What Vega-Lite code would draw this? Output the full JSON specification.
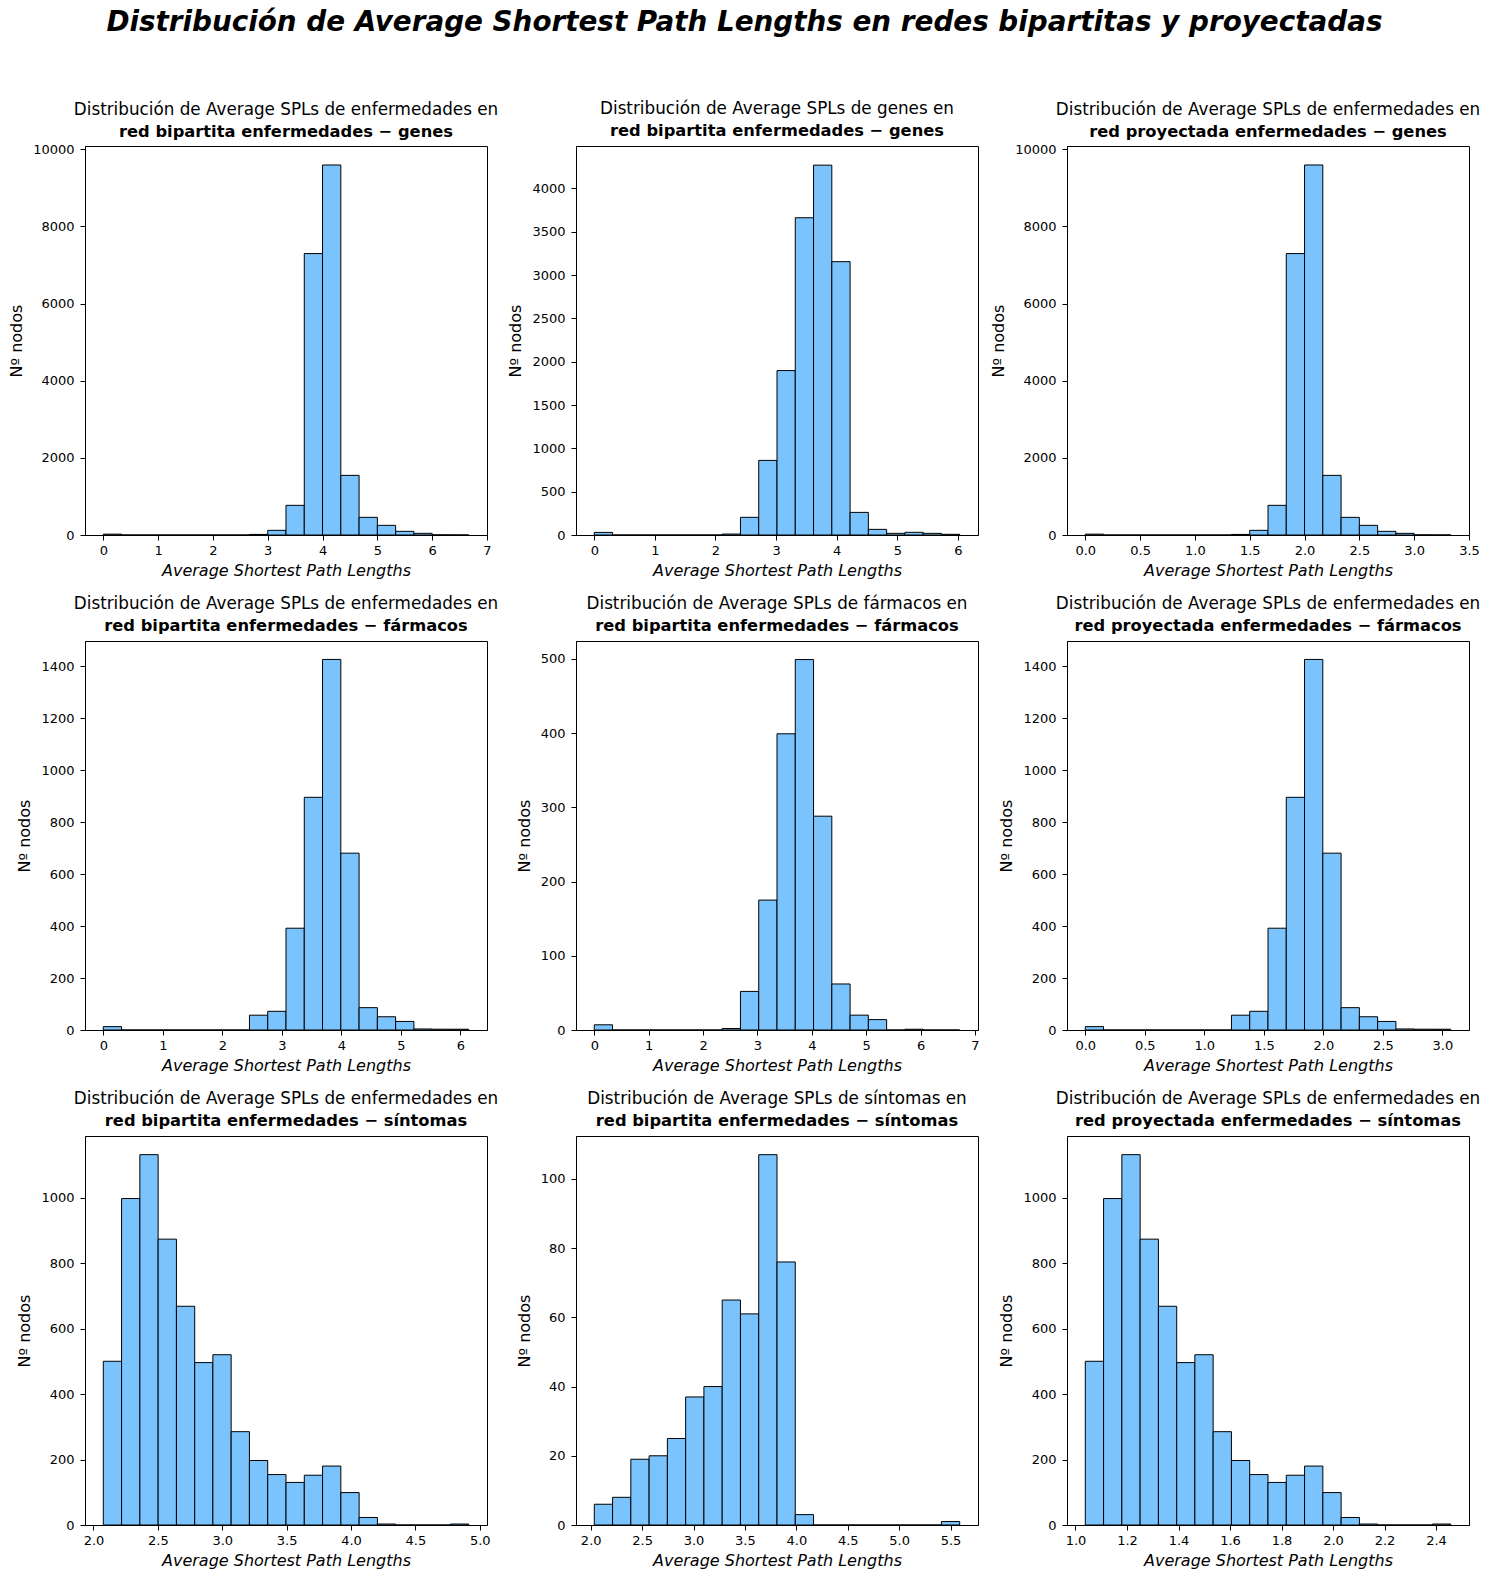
{
  "$schema": "https://vega.github.io/schema/vega-lite/v6.json",
  "padding": {"left": 8, "top": 9, "right": 5, "bottom": 5},
  "background": "white",
  "title": {
    "text": "Distribución de Average Shortest Path Lengths en redes bipartitas y proyectadas",
    "fontSize": 27.8,
    "fontWeight": "bold",
    "fontStyle": "italic",
    "font": "DejaVu Sans",
    "color": "black",
    "anchor": "middle",
    "offset": 63.5
  },
  "datasets": {
    "p1": [
      {"b0": 0, "b1": 0.3333, "n": 22}, {"b0": 0.3333, "b1": 0.6667, "n": 0}, {"b0": 0.6667, "b1": 1, "n": 0}, {"b0": 1, "b1": 1.3333, "n": 0},
      {"b0": 1.3333, "b1": 1.6667, "n": 0}, {"b0": 1.6667, "b1": 2, "n": 0}, {"b0": 2, "b1": 2.3333, "n": 0}, {"b0": 2.3333, "b1": 2.6667, "n": 0},
      {"b0": 2.6667, "b1": 3, "n": 15}, {"b0": 3, "b1": 3.3333, "n": 121}, {"b0": 3.3333, "b1": 3.6667, "n": 769}, {"b0": 3.6667, "b1": 4, "n": 7297},
      {"b0": 4, "b1": 4.3333, "n": 9594}, {"b0": 4.3333, "b1": 4.6667, "n": 1546}, {"b0": 4.6667, "b1": 5, "n": 458}, {"b0": 5, "b1": 5.3333, "n": 250},
      {"b0": 5.3333, "b1": 5.6667, "n": 95}, {"b0": 5.6667, "b1": 6, "n": 43}, {"b0": 6, "b1": 6.3333, "n": 4}, {"b0": 6.3333, "b1": 6.6667, "n": 2}
    ],
    "p2": [
      {"b0": 0, "b1": 0.3015, "n": 30}, {"b0": 0.3015, "b1": 0.603, "n": 0}, {"b0": 0.603, "b1": 0.9045, "n": 0}, {"b0": 0.9045, "b1": 1.206, "n": 0},
      {"b0": 1.206, "b1": 1.5075, "n": 0}, {"b0": 1.5075, "b1": 1.809, "n": 0}, {"b0": 1.809, "b1": 2.1105, "n": 0}, {"b0": 2.1105, "b1": 2.412, "n": 11},
      {"b0": 2.412, "b1": 2.7135, "n": 204}, {"b0": 2.7135, "b1": 3.015, "n": 861}, {"b0": 3.015, "b1": 3.3165, "n": 1898}, {"b0": 3.3165, "b1": 3.618, "n": 3662},
      {"b0": 3.618, "b1": 3.9195, "n": 4269}, {"b0": 3.9195, "b1": 4.221, "n": 3155}, {"b0": 4.221, "b1": 4.5225, "n": 261}, {"b0": 4.5225, "b1": 4.824, "n": 65},
      {"b0": 4.824, "b1": 5.1255, "n": 19}, {"b0": 5.1255, "b1": 5.427, "n": 31}, {"b0": 5.427, "b1": 5.7285, "n": 19}, {"b0": 5.7285, "b1": 6.03, "n": 8}
    ],
    "p3": [
      {"b0": 0, "b1": 0.1667, "n": 22}, {"b0": 0.1667, "b1": 0.3333, "n": 0}, {"b0": 0.3333, "b1": 0.5, "n": 0}, {"b0": 0.5, "b1": 0.6667, "n": 0},
      {"b0": 0.6667, "b1": 0.8333, "n": 0}, {"b0": 0.8333, "b1": 1, "n": 0}, {"b0": 1, "b1": 1.1667, "n": 0}, {"b0": 1.1667, "b1": 1.3333, "n": 0},
      {"b0": 1.3333, "b1": 1.5, "n": 15}, {"b0": 1.5, "b1": 1.6667, "n": 121}, {"b0": 1.6667, "b1": 1.8333, "n": 769}, {"b0": 1.8333, "b1": 2, "n": 7297},
      {"b0": 2, "b1": 2.1667, "n": 9594}, {"b0": 2.1667, "b1": 2.3333, "n": 1546}, {"b0": 2.3333, "b1": 2.5, "n": 458}, {"b0": 2.5, "b1": 2.6667, "n": 250},
      {"b0": 2.6667, "b1": 2.8333, "n": 95}, {"b0": 2.8333, "b1": 3, "n": 43}, {"b0": 3, "b1": 3.1667, "n": 4}, {"b0": 3.1667, "b1": 3.3333, "n": 2}
    ],
    "p4": [
      {"b0": 0, "b1": 0.307, "n": 13}, {"b0": 0.307, "b1": 0.614, "n": 0}, {"b0": 0.614, "b1": 0.921, "n": 0}, {"b0": 0.921, "b1": 1.228, "n": 0},
      {"b0": 1.228, "b1": 1.535, "n": 0}, {"b0": 1.535, "b1": 1.842, "n": 0}, {"b0": 1.842, "b1": 2.149, "n": 0}, {"b0": 2.149, "b1": 2.456, "n": 0},
      {"b0": 2.456, "b1": 2.763, "n": 57}, {"b0": 2.763, "b1": 3.07, "n": 72}, {"b0": 3.07, "b1": 3.377, "n": 392}, {"b0": 3.377, "b1": 3.684, "n": 896},
      {"b0": 3.684, "b1": 3.991, "n": 1427}, {"b0": 3.991, "b1": 4.298, "n": 681}, {"b0": 4.298, "b1": 4.605, "n": 86}, {"b0": 4.605, "b1": 4.912, "n": 51},
      {"b0": 4.912, "b1": 5.219, "n": 33}, {"b0": 5.219, "b1": 5.526, "n": 4}, {"b0": 5.526, "b1": 5.833, "n": 3}, {"b0": 5.833, "b1": 6.14, "n": 3}
    ],
    "p5": [
      {"b0": 0, "b1": 0.336, "n": 7}, {"b0": 0.336, "b1": 0.672, "n": 0}, {"b0": 0.672, "b1": 1.008, "n": 0}, {"b0": 1.008, "b1": 1.344, "n": 0},
      {"b0": 1.344, "b1": 1.68, "n": 0}, {"b0": 1.68, "b1": 2.016, "n": 0}, {"b0": 2.016, "b1": 2.352, "n": 0}, {"b0": 2.352, "b1": 2.688, "n": 2},
      {"b0": 2.688, "b1": 3.024, "n": 52}, {"b0": 3.024, "b1": 3.36, "n": 175}, {"b0": 3.36, "b1": 3.696, "n": 399}, {"b0": 3.696, "b1": 4.032, "n": 499},
      {"b0": 4.032, "b1": 4.368, "n": 288}, {"b0": 4.368, "b1": 4.704, "n": 62}, {"b0": 4.704, "b1": 5.04, "n": 20}, {"b0": 5.04, "b1": 5.376, "n": 14},
      {"b0": 5.376, "b1": 5.712, "n": 0}, {"b0": 5.712, "b1": 6.048, "n": 1}, {"b0": 6.048, "b1": 6.384, "n": 0}, {"b0": 6.384, "b1": 6.72, "n": 0}
    ],
    "p6": [
      {"b0": 0, "b1": 0.1535, "n": 13}, {"b0": 0.1535, "b1": 0.307, "n": 0}, {"b0": 0.307, "b1": 0.4605, "n": 0}, {"b0": 0.4605, "b1": 0.614, "n": 0},
      {"b0": 0.614, "b1": 0.7675, "n": 0}, {"b0": 0.7675, "b1": 0.921, "n": 0}, {"b0": 0.921, "b1": 1.0745, "n": 0}, {"b0": 1.0745, "b1": 1.228, "n": 0},
      {"b0": 1.228, "b1": 1.3815, "n": 57}, {"b0": 1.3815, "b1": 1.535, "n": 72}, {"b0": 1.535, "b1": 1.6885, "n": 392}, {"b0": 1.6885, "b1": 1.842, "n": 896},
      {"b0": 1.842, "b1": 1.9955, "n": 1427}, {"b0": 1.9955, "b1": 2.149, "n": 681}, {"b0": 2.149, "b1": 2.3025, "n": 86}, {"b0": 2.3025, "b1": 2.456, "n": 51},
      {"b0": 2.456, "b1": 2.6095, "n": 33}, {"b0": 2.6095, "b1": 2.763, "n": 4}, {"b0": 2.763, "b1": 2.9165, "n": 3}, {"b0": 2.9165, "b1": 3.07, "n": 3}
    ],
    "p7": [
      {"b0": 2.076, "b1": 2.218, "n": 500}, {"b0": 2.218, "b1": 2.36, "n": 997}, {"b0": 2.36, "b1": 2.502, "n": 1131}, {"b0": 2.502, "b1": 2.644, "n": 873},
      {"b0": 2.644, "b1": 2.786, "n": 668}, {"b0": 2.786, "b1": 2.927, "n": 496}, {"b0": 2.927, "b1": 3.069, "n": 520}, {"b0": 3.069, "b1": 3.211, "n": 285},
      {"b0": 3.211, "b1": 3.353, "n": 197}, {"b0": 3.353, "b1": 3.495, "n": 154}, {"b0": 3.495, "b1": 3.637, "n": 130}, {"b0": 3.637, "b1": 3.779, "n": 152},
      {"b0": 3.779, "b1": 3.921, "n": 180}, {"b0": 3.921, "b1": 4.063, "n": 99}, {"b0": 4.063, "b1": 4.205, "n": 23}, {"b0": 4.205, "b1": 4.346, "n": 3},
      {"b0": 4.346, "b1": 4.488, "n": 0}, {"b0": 4.488, "b1": 4.63, "n": 0}, {"b0": 4.63, "b1": 4.772, "n": 0}, {"b0": 4.772, "b1": 4.914, "n": 3}
    ],
    "p8": [
      {"b0": 2.035, "b1": 2.2127, "n": 6}, {"b0": 2.2127, "b1": 2.3904, "n": 8}, {"b0": 2.3904, "b1": 2.5681, "n": 19}, {"b0": 2.5681, "b1": 2.7458, "n": 20},
      {"b0": 2.7458, "b1": 2.9235, "n": 25}, {"b0": 2.9235, "b1": 3.1012, "n": 37}, {"b0": 3.1012, "b1": 3.2789, "n": 40}, {"b0": 3.2789, "b1": 3.4566, "n": 65},
      {"b0": 3.4566, "b1": 3.6343, "n": 61}, {"b0": 3.6343, "b1": 3.812, "n": 107}, {"b0": 3.812, "b1": 3.9897, "n": 76}, {"b0": 3.9897, "b1": 4.1674, "n": 3},
      {"b0": 4.1674, "b1": 4.3451, "n": 0}, {"b0": 4.3451, "b1": 4.5228, "n": 0}, {"b0": 4.5228, "b1": 4.7005, "n": 0}, {"b0": 4.7005, "b1": 4.8782, "n": 0},
      {"b0": 4.8782, "b1": 5.0559, "n": 0}, {"b0": 5.0559, "b1": 5.2336, "n": 0}, {"b0": 5.2336, "b1": 5.4113, "n": 0}, {"b0": 5.4113, "b1": 5.589, "n": 1}
    ],
    "p9": [
      {"b0": 1.038, "b1": 1.109, "n": 500}, {"b0": 1.109, "b1": 1.18, "n": 997}, {"b0": 1.18, "b1": 1.251, "n": 1131}, {"b0": 1.251, "b1": 1.322, "n": 873},
      {"b0": 1.322, "b1": 1.393, "n": 668}, {"b0": 1.393, "b1": 1.4635, "n": 496}, {"b0": 1.4635, "b1": 1.5345, "n": 520}, {"b0": 1.5345, "b1": 1.6055, "n": 285},
      {"b0": 1.6055, "b1": 1.6765, "n": 197}, {"b0": 1.6765, "b1": 1.7475, "n": 154}, {"b0": 1.7475, "b1": 1.8185, "n": 130}, {"b0": 1.8185, "b1": 1.8895, "n": 152},
      {"b0": 1.8895, "b1": 1.9605, "n": 180}, {"b0": 1.9605, "b1": 2.0315, "n": 99}, {"b0": 2.0315, "b1": 2.1025, "n": 23}, {"b0": 2.1025, "b1": 2.173, "n": 3},
      {"b0": 2.173, "b1": 2.244, "n": 0}, {"b0": 2.244, "b1": 2.315, "n": 0}, {"b0": 2.315, "b1": 2.386, "n": 0}, {"b0": 2.386, "b1": 2.457, "n": 3}
    ]
  },
  "columns": 3,
  "bounds": "flush",
  "spacing": {"row": 106, "column": 89},
  "concat": [
    {
      "width": 402, "height": 389,
      "data": {"name": "p1"},
      "title": {"text": "Distribución de Average SPLs de enfermedades  en", "subtitle": "red bipartita enfermedades − genes", "offset": 3},
      "mark": {"type": "bar", "fill": "#7bc3fc", "stroke": "black", "strokeWidth": 1},
      "encoding": {
        "x": {"field": "b0", "type": "quantitative", "scale": {"domain": [-0.3333, 7], "nice": false, "zero": false}, "axis": {"values": [0, 1, 2, 3, 4, 5, 6, 7], "format": "d", "title": "Average Shortest Path Lengths"}},
        "x2": {"field": "b1"},
        "y": {"field": "n", "type": "quantitative", "scale": {"domain": [0, 10086], "nice": false}, "axis": {"values": [0, 2000, 4000, 6000, 8000, 10000], "format": "d", "title": "Nº nodos"}},
        "y2": {"datum": 0}
      }
    },
    {
      "width": 402, "height": 389,
      "data": {"name": "p2"},
      "title": {"text": "Distribución de Average SPLs de genes  en", "subtitle": "red bipartita enfermedades − genes"},
      "mark": {"type": "bar", "fill": "#7bc3fc", "stroke": "black", "strokeWidth": 1},
      "encoding": {
        "x": {"field": "b0", "type": "quantitative", "scale": {"domain": [-0.3015, 6.3315], "nice": false, "zero": false}, "axis": {"values": [0, 1, 2, 3, 4, 5, 6], "format": "d", "title": "Average Shortest Path Lengths"}},
        "x2": {"field": "b1"},
        "y": {"field": "n", "type": "quantitative", "scale": {"domain": [0, 4490], "nice": false}, "axis": {"values": [0, 500, 1000, 1500, 2000, 2500, 3000, 3500, 4000], "format": "d", "title": "Nº nodos"}},
        "y2": {"datum": 0}
      }
    },
    {
      "width": 402, "height": 389,
      "data": {"name": "p3"},
      "title": {"text": "Distribución de Average SPLs de enfermedades en", "subtitle": "red proyectada enfermedades − genes", "offset": 3},
      "mark": {"type": "bar", "fill": "#7bc3fc", "stroke": "black", "strokeWidth": 1},
      "encoding": {
        "x": {"field": "b0", "type": "quantitative", "scale": {"domain": [-0.1667, 3.5], "nice": false, "zero": false}, "axis": {"values": [0, 0.5, 1, 1.5, 2, 2.5, 3, 3.5], "format": ".1f", "title": "Average Shortest Path Lengths"}},
        "x2": {"field": "b1"},
        "y": {"field": "n", "type": "quantitative", "scale": {"domain": [0, 10086], "nice": false}, "axis": {"values": [0, 2000, 4000, 6000, 8000, 10000], "format": "d", "title": "Nº nodos"}},
        "y2": {"datum": 0}
      }
    },
    {
      "width": 402, "height": 389,
      "data": {"name": "p4"},
      "title": {"text": "Distribución de Average SPLs de enfermedades  en", "subtitle": "red bipartita enfermedades − fármacos"},
      "mark": {"type": "bar", "fill": "#7bc3fc", "stroke": "black", "strokeWidth": 1},
      "encoding": {
        "x": {"field": "b0", "type": "quantitative", "scale": {"domain": [-0.307, 6.447], "nice": false, "zero": false}, "axis": {"values": [0, 1, 2, 3, 4, 5, 6], "format": "d", "title": "Average Shortest Path Lengths"}},
        "x2": {"field": "b1"},
        "y": {"field": "n", "type": "quantitative", "scale": {"domain": [0, 1498], "nice": false}, "axis": {"values": [0, 200, 400, 600, 800, 1000, 1200, 1400], "format": "d", "title": "Nº nodos"}},
        "y2": {"datum": 0}
      }
    },
    {
      "width": 402, "height": 389,
      "data": {"name": "p5"},
      "title": {"text": "Distribución de Average SPLs de fármacos  en", "subtitle": "red bipartita enfermedades − fármacos"},
      "mark": {"type": "bar", "fill": "#7bc3fc", "stroke": "black", "strokeWidth": 1},
      "encoding": {
        "x": {"field": "b0", "type": "quantitative", "scale": {"domain": [-0.336, 7.056], "nice": false, "zero": false}, "axis": {"values": [0, 1, 2, 3, 4, 5, 6, 7], "format": "d", "title": "Average Shortest Path Lengths"}},
        "x2": {"field": "b1"},
        "y": {"field": "n", "type": "quantitative", "scale": {"domain": [0, 524], "nice": false}, "axis": {"values": [0, 100, 200, 300, 400, 500], "format": "d", "title": "Nº nodos"}},
        "y2": {"datum": 0}
      }
    },
    {
      "width": 402, "height": 389,
      "data": {"name": "p6"},
      "title": {"text": "Distribución de Average SPLs de enfermedades en", "subtitle": "red proyectada enfermedades − fármacos"},
      "mark": {"type": "bar", "fill": "#7bc3fc", "stroke": "black", "strokeWidth": 1},
      "encoding": {
        "x": {"field": "b0", "type": "quantitative", "scale": {"domain": [-0.1535, 3.2235], "nice": false, "zero": false}, "axis": {"values": [0, 0.5, 1, 1.5, 2, 2.5, 3], "format": ".1f", "title": "Average Shortest Path Lengths"}},
        "x2": {"field": "b1"},
        "y": {"field": "n", "type": "quantitative", "scale": {"domain": [0, 1498], "nice": false}, "axis": {"values": [0, 200, 400, 600, 800, 1000, 1200, 1400], "format": "d", "title": "Nº nodos"}},
        "y2": {"datum": 0}
      }
    },
    {
      "width": 402, "height": 389,
      "data": {"name": "p7"},
      "title": {"text": "Distribución de Average SPLs de enfermedades  en", "subtitle": "red bipartita enfermedades − síntomas"},
      "mark": {"type": "bar", "fill": "#7bc3fc", "stroke": "black", "strokeWidth": 1},
      "encoding": {
        "x": {"field": "b0", "type": "quantitative", "scale": {"domain": [1.934, 5.056], "nice": false, "zero": false}, "axis": {"values": [2, 2.5, 3, 3.5, 4, 4.5, 5], "format": ".1f", "title": "Average Shortest Path Lengths"}},
        "x2": {"field": "b1"},
        "y": {"field": "n", "type": "quantitative", "scale": {"domain": [0, 1188], "nice": false}, "axis": {"values": [0, 200, 400, 600, 800, 1000], "format": "d", "title": "Nº nodos"}},
        "y2": {"datum": 0}
      }
    },
    {
      "width": 402, "height": 389,
      "data": {"name": "p8"},
      "title": {"text": "Distribución de Average SPLs de síntomas  en", "subtitle": "red bipartita enfermedades − síntomas"},
      "mark": {"type": "bar", "fill": "#7bc3fc", "stroke": "black", "strokeWidth": 1},
      "encoding": {
        "x": {"field": "b0", "type": "quantitative", "scale": {"domain": [1.857, 5.767], "nice": false, "zero": false}, "axis": {"values": [2, 2.5, 3, 3.5, 4, 4.5, 5, 5.5], "format": ".1f", "title": "Average Shortest Path Lengths"}},
        "x2": {"field": "b1"},
        "y": {"field": "n", "type": "quantitative", "scale": {"domain": [0, 112.4], "nice": false}, "axis": {"values": [0, 20, 40, 60, 80, 100], "format": "d", "title": "Nº nodos"}},
        "y2": {"datum": 0}
      }
    },
    {
      "width": 402, "height": 389,
      "data": {"name": "p9"},
      "title": {"text": "Distribución de Average SPLs de enfermedades en", "subtitle": "red proyectada enfermedades − síntomas"},
      "mark": {"type": "bar", "fill": "#7bc3fc", "stroke": "black", "strokeWidth": 1},
      "encoding": {
        "x": {"field": "b0", "type": "quantitative", "scale": {"domain": [0.967, 2.528], "nice": false, "zero": false}, "axis": {"values": [1, 1.2, 1.4, 1.6, 1.8, 2, 2.2, 2.4], "format": ".1f", "title": "Average Shortest Path Lengths"}},
        "x2": {"field": "b1"},
        "y": {"field": "n", "type": "quantitative", "scale": {"domain": [0, 1188], "nice": false}, "axis": {"values": [0, 200, 400, 600, 800, 1000], "format": "d", "title": "Nº nodos"}},
        "y2": {"datum": 0}
      }
    }
  ],
  "config": {
    "font": "DejaVu Sans",
    "view": {"stroke": "black", "strokeWidth": 1},
    "axis": {
      "grid": false,
      "domainColor": "black",
      "tickColor": "black",
      "labelColor": "black",
      "titleColor": "black",
      "labelFont": "DejaVu Sans",
      "titleFont": "DejaVu Sans",
      "labelFontSize": 13,
      "titleFontSize": 16,
      "titleFontWeight": "normal",
      "tickSize": 5,
      "labelPadding": 4,
      "labelFlush": false,
      "labelOverlap": false
    },
    "axisX": {"titleFontStyle": "italic", "labelAngle": 0, "titlePadding": 5},
    "axisY": {"titlePadding": 8, "labelPadding": 6},
    "title": {
      "font": "DejaVu Sans",
      "fontSize": 16.8,
      "fontWeight": "normal",
      "color": "black",
      "subtitleFont": "DejaVu Sans",
      "subtitleFontSize": 16.3,
      "subtitleFontWeight": "bold",
      "subtitleColor": "black",
      "subtitlePadding": 5,
      "offset": 7,
      "anchor": "middle"
    }
  }
}
